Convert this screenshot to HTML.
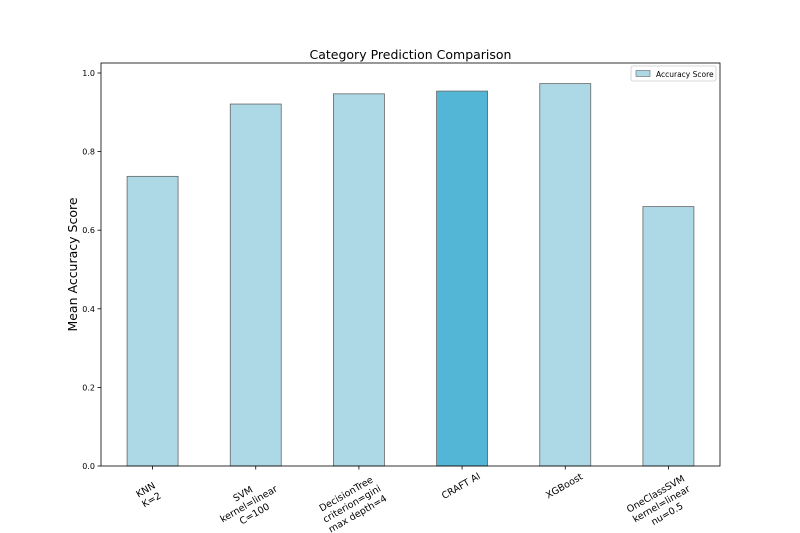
<!DOCTYPE html>
<html><head><meta charset="utf-8"><style>body{margin:0;background:#fff}svg{display:block;font-family:"DejaVu Sans","Liberation Sans",sans-serif}</style></head>
<body>
<svg id="c" width="800" height="533"></svg>
<script>
const categories=[["KNN","K=2"],["SVM","kernel=linear","C=100"],["DecisionTree","criterion=gini","max depth=4"],["CRAFT AI"],["XGBoost"],["OneClassSVM","kernel=linear","nu=0.5"]];
const values=[0.737,0.921,0.947,0.954,0.973,0.660];
const highlight=[false,false,false,true,false,false];
const yTicks=[0,0.2,0.4,0.6,0.8,1.0];
const yTickLabels=["0.0","0.2","0.4","0.6","0.8","1.0"];
const NS="http://www.w3.org/2000/svg";
const svg=document.getElementById('c');
const L=101,R=720,T=63,B=466;
const y=v=>B-v*393;
const step=(R-L)/categories.length;
const x=i=>L+step*(i+0.5);
function mk(t,a,p){const e=document.createElementNS(NS,t);for(const k in a)e.setAttribute(k,a[k]);(p||svg).appendChild(e);return e;}
const title=mk('text',{x:(L+R)/2,y:59,'text-anchor':'middle','font-size':12.5,fill:'#000'});title.textContent='Category Prediction Comparison';


values.forEach((v,i)=>{
 const r=mk('rect',{x:x(i)-25.5,y:y(v),width:51,height:B-y(v),fill:highlight[i]?'#54b6d6':'#add8e6',stroke:'#666','stroke-width':0.8});
 
 
});
const frame=mk('rect',{x:L,y:T,width:R-L,height:B-T,fill:'none',stroke:'#000','stroke-width':0.8});


yTicks.forEach((t,i)=>{
 mk('line',{x1:L-3.5,x2:L,y1:y(t),y2:y(t),stroke:'#000','stroke-width':0.8});
 const tx=mk('text',{x:L-6,y:y(t)+3,'text-anchor':'end','font-size':8,fill:'#000'});tx.textContent=yTickLabels[i];
 
 
});
categories.forEach((c,i)=>{
 mk('line',{x1:x(i),x2:x(i),y1:B,y2:B+3.5,stroke:'#000','stroke-width':0.8});
 const n=c.length;
 const g=mk('text',{'text-anchor':'middle','font-size':9.5,fill:'#000',transform:`translate(${x(i)-n*3+2},${B+20+(n-1)*9}) rotate(-30)`});
 
 
 c.forEach((s,j)=>{const ts=mk('tspan',{x:0,y:(j-(n-1)/2)*11.5+3},g);ts.textContent=s;});
});
const yl=mk('text',{transform:`translate(77,${(T+B)/2}) rotate(-90)`,'text-anchor':'middle','font-size':12.5,fill:'#000'});yl.textContent='Mean Accuracy Score';


const lg=mk('g',{});


mk('rect',{x:631,y:66,width:85,height:15,fill:'#fff',stroke:'#ccc','stroke-width':0.8,rx:2},lg);
mk('rect',{x:636,y:70.5,width:14,height:6,fill:'#add8e6',stroke:'#666','stroke-width':0.6},lg);
const lt=mk('text',{x:656,y:77,'font-size':7.5,fill:'#000'},lg);lt.textContent='Accuracy Score';
</script>
</body></html>
